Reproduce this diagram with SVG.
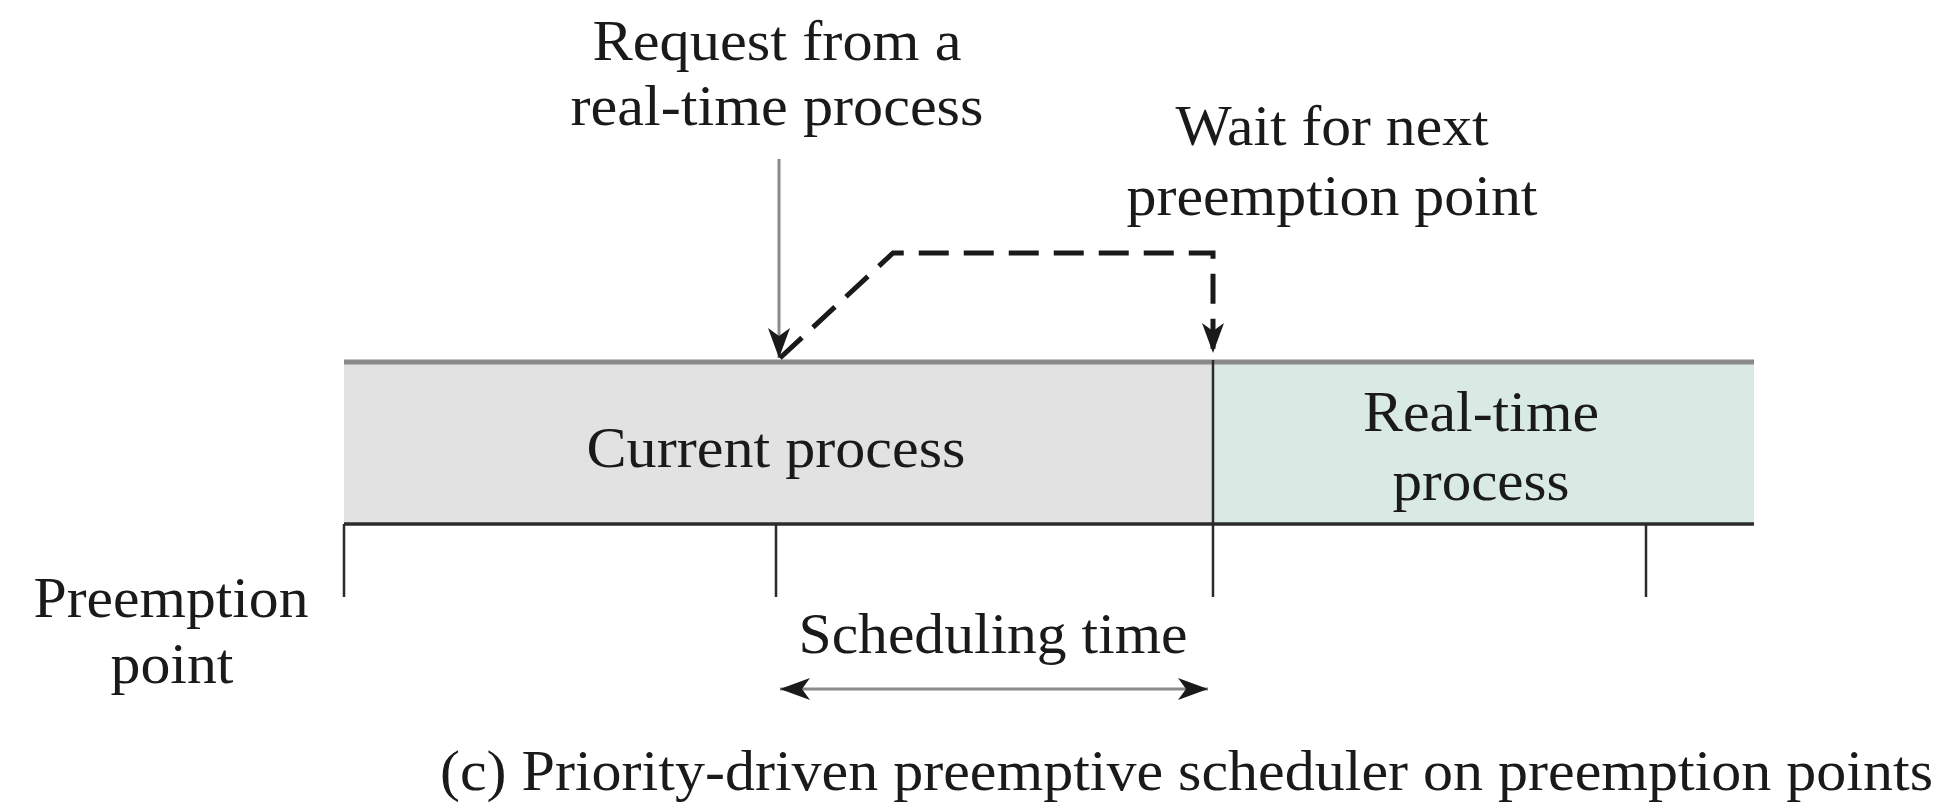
<svg xmlns="http://www.w3.org/2000/svg" width="1946" height="808" viewBox="0 0 1946 808">
<style>
  text { font-family: "Liberation Serif", "Times New Roman", serif; font-size: 58px; fill: #1a1a1a; }
  .c { text-anchor: middle; }
  .tick { stroke: #2b2b2b; stroke-width: 2.5; fill: none; }
  .grayline { stroke: #8a8a8a; stroke-width: 3; fill: none; }
  .dash { stroke: #1a1a1a; stroke-width: 5; stroke-dasharray: 30 15; fill: none; }
</style>
<defs>
  <marker id="ah" markerUnits="userSpaceOnUse" markerWidth="34" markerHeight="26" refX="30" refY="11" orient="auto-start-reverse" viewBox="0 0 34 26">
    <path d="M0,0 L30,11 L0,22 L8,11 Z" fill="#1a1a1a"/>
  </marker>
</defs>
<rect width="1946" height="808" fill="#ffffff"/>

<g id="current-process">
  <rect x="344" y="362" width="869" height="162" fill="#e2e2e2"/>
  <text class="c" x="776" y="467" textLength="379" lengthAdjust="spacingAndGlyphs">Current process</text>
</g>
<g id="realtime-process">
  <rect x="1213" y="362" width="541" height="162" fill="#d9eae5"/>
  <text class="c" x="1481" y="431" textLength="236" lengthAdjust="spacingAndGlyphs">Real-time</text>
  <text class="c" x="1481" y="500" textLength="177" lengthAdjust="spacingAndGlyphs">process</text>
</g>
<g id="timeline">
  <line x1="344" y1="362" x2="1754" y2="362" stroke="#8a8a8a" stroke-width="5"/>
  <line x1="344" y1="524" x2="1754" y2="524" stroke="#2b2b2b" stroke-width="3.5"/>
  <line class="tick" x1="344" y1="524" x2="344" y2="597"/>
  <line class="tick" x1="776" y1="524" x2="776" y2="597"/>
  <line class="tick" x1="1213" y1="360" x2="1213" y2="597" stroke-width="3"/>
  <line class="tick" x1="1646" y1="524" x2="1646" y2="597"/>
</g>
<g id="request-label">
  <text class="c" x="777" y="60" textLength="369" lengthAdjust="spacingAndGlyphs">Request from a</text>
  <text class="c" x="777" y="125" textLength="413" lengthAdjust="spacingAndGlyphs">real-time process</text>
</g>
<g id="wait-label">
  <text class="c" x="1332" y="145" textLength="313" lengthAdjust="spacingAndGlyphs">Wait for next</text>
  <text class="c" x="1332" y="215" textLength="411" lengthAdjust="spacingAndGlyphs">preemption point</text>
</g>
<g id="preemption-label">
  <text class="c" x="171" y="617" textLength="275" lengthAdjust="spacingAndGlyphs">Preemption</text>
  <text class="c" x="172" y="683" textLength="123" lengthAdjust="spacingAndGlyphs">point</text>
</g>
<g id="scheduling-label">
  <text class="c" x="993" y="653" textLength="389" lengthAdjust="spacingAndGlyphs">Scheduling time</text>
</g>
<g id="caption">
  <text x="440" y="790" textLength="1493" lengthAdjust="spacingAndGlyphs">(c) Priority-driven preemptive scheduler on preemption points</text>
</g>
<g id="connectors">
  <line class="grayline" x1="779" y1="159" x2="779" y2="358" marker-end="url(#ah)"/>
  <path class="dash" d="M780,358 L893,253 L1213,253 L1213,353" marker-end="url(#ah)"/>
  <line class="grayline" x1="780" y1="689" x2="1208" y2="689" marker-start="url(#ah)" marker-end="url(#ah)"/>
</g>
</svg>
